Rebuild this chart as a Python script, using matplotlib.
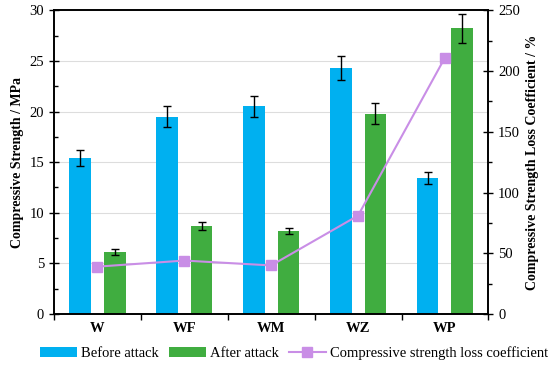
import matplotlib.pyplot as plt
import numpy as np
from matplotlib.ticker import MultipleLocator

plt.rcParams['font.family'] = ['Liberation Serif', 'DejaVu Serif']

grupos = ['W', 'WF', 'WM', 'WZ', 'WP']
antes = [15.4, 19.5, 20.5, 24.3, 13.4]
antes_err = [0.8, 1.0, 1.0, 1.2, 0.6]
depois = [6.1, 8.7, 8.2, 19.8, 28.2]
depois_err = [0.3, 0.4, 0.3, 1.0, 1.4]
perda = [39, 44, 40, 81, 211]

azul = '#00b0f0'
verde = '#40ad40'
roxo = '#c98ee6'

fig, ax = plt.subplots(figsize=(5.5, 3.66), dpi=100)
fig.subplots_adjust(left=0.098, right=0.888, top=0.972, bottom=0.142)

x = np.arange(len(grupos))
larg = 0.25
ax.bar(x - 0.2, antes, larg, color=azul, label='Before attack', zorder=2)
ax.bar(x + 0.2, depois, larg, color=verde, label='After attack', zorder=2)
ax.errorbar(x - 0.2, antes, yerr=antes_err, fmt='none', ecolor='black',
            elinewidth=1, capsize=3, capthick=1, zorder=3)
ax.errorbar(x + 0.2, depois, yerr=depois_err, fmt='none', ecolor='black',
            elinewidth=1, capsize=3, capthick=1, zorder=3)

ax.set_xlim(-0.5, len(grupos) - 0.5)
ax.set_ylim(0, 30)
ax.yaxis.set_major_locator(MultipleLocator(5))
ax.yaxis.set_minor_locator(MultipleLocator(2.5))
ax.grid(axis='y', color='#dddddd', linewidth=0.8, zorder=0)
ax.set_xticks(x)
ax.set_xticklabels(grupos, fontweight='bold', fontsize=10.5)
ax.set_xticks(np.arange(-0.5, len(grupos)), minor=True)
ax.tick_params(axis='x', which='major', length=0, pad=6)
ax.tick_params(axis='x', which='minor', length=4, direction='out', width=1)
ax.tick_params(axis='y', which='major', direction='inout', length=7, width=1, labelsize=10.5)
ax.tick_params(axis='y', which='minor', direction='in', length=3, width=1)
ax.set_ylabel('Compressive Strength / MPa', fontweight='bold', fontsize=10)
for s in ax.spines.values():
    s.set_linewidth(1.2)

ax2 = ax.twinx()
ax2.plot(x, perda, color=roxo, marker='s', markersize=7, linewidth=1.5,
         label='Compressive strength loss coefficient', zorder=4)
ax2.set_ylim(0, 250)
ax2.yaxis.set_major_locator(MultipleLocator(50))
ax2.yaxis.set_minor_locator(MultipleLocator(25))
ax2.tick_params(axis='y', which='major', direction='inout', length=7, width=1, labelsize=10.5)
ax2.tick_params(axis='y', which='minor', direction='out', length=3, width=1)
ax2.set_ylabel('Compressive Strength Loss Coefficient / %', fontweight='bold', fontsize=10)
for s in ax2.spines.values():
    s.set_linewidth(1.2)

h1, l1 = ax.get_legend_handles_labels()
h2, l2 = ax2.get_legend_handles_labels()
fig.legend(h1 + h2, l1 + l2, loc='lower center', ncol=3, frameon=False,
           fontsize=10.5, bbox_to_anchor=(0.535, -0.02), handlelength=2.5,
           columnspacing=0.7, handletextpad=0.3)

fig.savefig('out.png', dpi=100)
